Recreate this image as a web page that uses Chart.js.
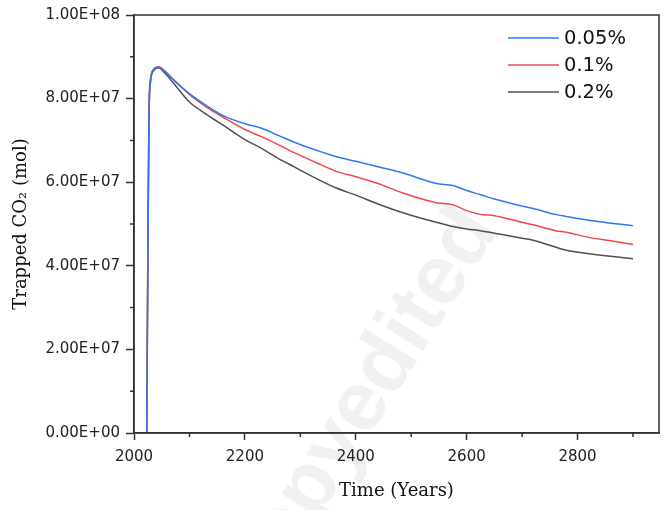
<!DOCTYPE html>
<html>
<head>
<meta charset="utf-8">
<script src="https://cdn.jsdelivr.net/npm/chart.js@4/dist/chart.umd.min.js"></script>
<style>
  html, body { margin: 0; padding: 0; background: #fff; }
  #chart { display: block; }
</style>
</head>
<body>
<canvas id="chart" width="670" height="510"></canvas>
<script>
'use strict';

// anos comuns às três séries
const years = [2023, 2025, 2027, 2030, 2035, 2045, 2055, 2070, 2100, 2130, 2160, 2200, 2230, 2260, 2290, 2330,
    2365, 2400, 2440, 2485, 2545, 2575, 2600, 2625, 2650, 2700, 2720, 2760, 2780, 2820, 2860, 2900];

const trapped005 = [0, 4.2e7, 7.6e7, 8.45e7, 8.68e7, 8.75e7, 8.66e7, 8.46e7, 8.12e7, 7.84e7, 7.6e7, 7.4e7, 7.29e7, 7.12e7, 6.95e7, 6.76e7,
    6.61e7, 6.5e7, 6.37e7, 6.22e7, 5.97e7, 5.92e7, 5.8e7, 5.7e7, 5.6e7, 5.43e7, 5.37e7, 5.23e7, 5.18e7, 5.09e7, 5.02e7, 4.96e7];
const trapped01 = [0, 4.5e7, 7.8e7, 8.5e7, 8.7e7, 8.76e7, 8.67e7, 8.47e7, 8.1e7, 7.8e7, 7.56e7, 7.26e7, 7.09e7, 6.9e7, 6.7e7, 6.46e7,
    6.26e7, 6.13e7, 5.97e7, 5.74e7, 5.51e7, 5.46e7, 5.32e7, 5.23e7, 5.2e7, 5.04e7, 4.98e7, 4.84e7, 4.8e7, 4.68e7, 4.6e7, 4.51e7];
const trapped02 = [0, 4.0e7, 7.5e7, 8.4e7, 8.66e7, 8.74e7, 8.62e7, 8.39e7, 7.92e7, 7.63e7, 7.37e7, 7.02e7, 6.81e7, 6.57e7, 6.36e7, 6.08e7,
    5.86e7, 5.69e7, 5.48e7, 5.27e7, 5.04e7, 4.94e7, 4.88e7, 4.84e7, 4.78e7, 4.66e7, 4.61e7, 4.45e7, 4.37e7, 4.29e7, 4.23e7, 4.17e7];

const seriesLabels = ['0.05%', '0.1%', '0.2%'];
const seriesColors = ['#2f78ec', '#f04848', '#505050'];

const xTicks = [2000, 2200, 2400, 2600, 2800];
const yTicks = [0, 2e7, 4e7, 6e7, 8e7, 1e8];

const AXIS = '#333';

function fmtSci(v) {
    if (v === 0) return '0.00E+00';
    const exp = Math.floor(Math.log10(v));
    const mant = (v / Math.pow(10, exp)).toFixed(2);
    return `${mant}E+${String(exp).padStart(2, '0')}`;
}

const toPoints = (vals) => years.map((y, i) => ({ x: y, y: vals[i] }));

// marca de água, caixa, ticks menores e legenda
const extrasPlugin = {
    id: 'extras',
    beforeDraw(chart) {
        const { ctx } = chart;
        ctx.save();
        ctx.translate(362, 405);
        ctx.rotate(-58 * Math.PI / 180);
        ctx.fillStyle = '#f1f1f1';
        ctx.font = 'bold 84px "Liberation Sans", Arial, sans-serif';
        ctx.textAlign = 'center';
        ctx.textBaseline = 'middle';
        ctx.fillText('copyedited', 0, 0);
        ctx.restore();
    },
    afterDraw(chart) {
        const { ctx, chartArea: a, scales: { x, y } } = chart;
        ctx.save();
        ctx.strokeStyle = AXIS;
        ctx.lineWidth = 1.5;
        ctx.strokeRect(a.left, a.top, a.right - a.left, a.bottom - a.top);

        ctx.beginPath();
        for (let i = 0; i < xTicks.length; i++) {
            const px = x.getPixelForValue(xTicks[i] + 100);
            if (px > a.right) continue;
            ctx.moveTo(px, a.bottom);
            ctx.lineTo(px, a.bottom + 4);
        }
        for (let i = 0; i < yTicks.length - 1; i++) {
            const py = y.getPixelForValue(yTicks[i] + 1e7);
            ctx.moveTo(a.left, py);
            ctx.lineTo(a.left - 4, py);
        }
        ctx.stroke();

        // legenda
        ctx.font = '19.5px "DejaVu Sans", sans-serif';
        ctx.textBaseline = 'middle';
        ctx.textAlign = 'left';
        chart.data.datasets.forEach((ds, i) => {
            const ly = 38 + i * 27;
            ctx.strokeStyle = ds.borderColor;
            ctx.lineWidth = 1.5;
            ctx.beginPath();
            ctx.moveTo(508, ly);
            ctx.lineTo(559, ly);
            ctx.stroke();
            ctx.fillStyle = '#111';
            ctx.fillText(ds.label, 564, ly + 1);
        });
        ctx.restore();
    }
};

const datasets = [trapped005, trapped01, trapped02].map((vals, i) => ({
    label: seriesLabels[i],
    data: toPoints(vals),
    borderColor: seriesColors[i],
    backgroundColor: seriesColors[i],
    borderWidth: 1.5,
    pointRadius: 0,
    cubicInterpolationMode: 'monotone',
    fill: false
}));

new Chart(document.getElementById('chart'), {
    type: 'line',
    data: { datasets },
    plugins: [extrasPlugin],
    options: {
        responsive: false,
        animation: false,
        layout: { padding: { left: 0, top: 10, right: 11, bottom: 0 } },
        plugins: { legend: { display: false }, tooltip: { enabled: false } },
        scales: {
            x: {
                type: 'linear',
                min: 2000,
                max: 2947,
                afterFit: (s) => { s.height = 77; },
                afterBuildTicks: (s) => { s.ticks = xTicks.map(v => ({ value: v })); },
                ticks: {
                    padding: 8,
                    color: '#222',
                    font: { family: '"DejaVu Sans", sans-serif', size: 15 },
                    callback: (v) => String(v)
                },
                grid: { drawOnChartArea: false, tickLength: 7, tickColor: AXIS, tickWidth: 1.5 },
                border: { color: AXIS, width: 1.5 },
                title: {
                    display: true,
                    text: 'Time (Years)',
                    color: '#111',
                    font: { family: '"DejaVu Serif", serif', size: 18 },
                    padding: { top: 0, bottom: 8 }
                }
            },
            y: {
                min: 0,
                max: 1e8,
                afterFit: (s) => { s.width = 134; },
                afterBuildTicks: (s) => { s.ticks = yTicks.map(v => ({ value: v })); },
                ticks: {
                    padding: 6,
                    color: '#222',
                    font: { family: '"DejaVu Sans", sans-serif', size: 15 },
                    callback: (v) => fmtSci(v)
                },
                grid: { drawOnChartArea: false, tickLength: 8, tickColor: AXIS, tickWidth: 1.5 },
                border: { color: AXIS, width: 1.5 },
                title: {
                    display: true,
                    text: 'Trapped CO₂ (mol)',
                    color: '#111',
                    font: { family: '"DejaVu Serif", serif', size: 18 },
                    padding: { top: 11, bottom: 0 }
                }
            }
        }
    }
});
</script>
</body>
</html>
